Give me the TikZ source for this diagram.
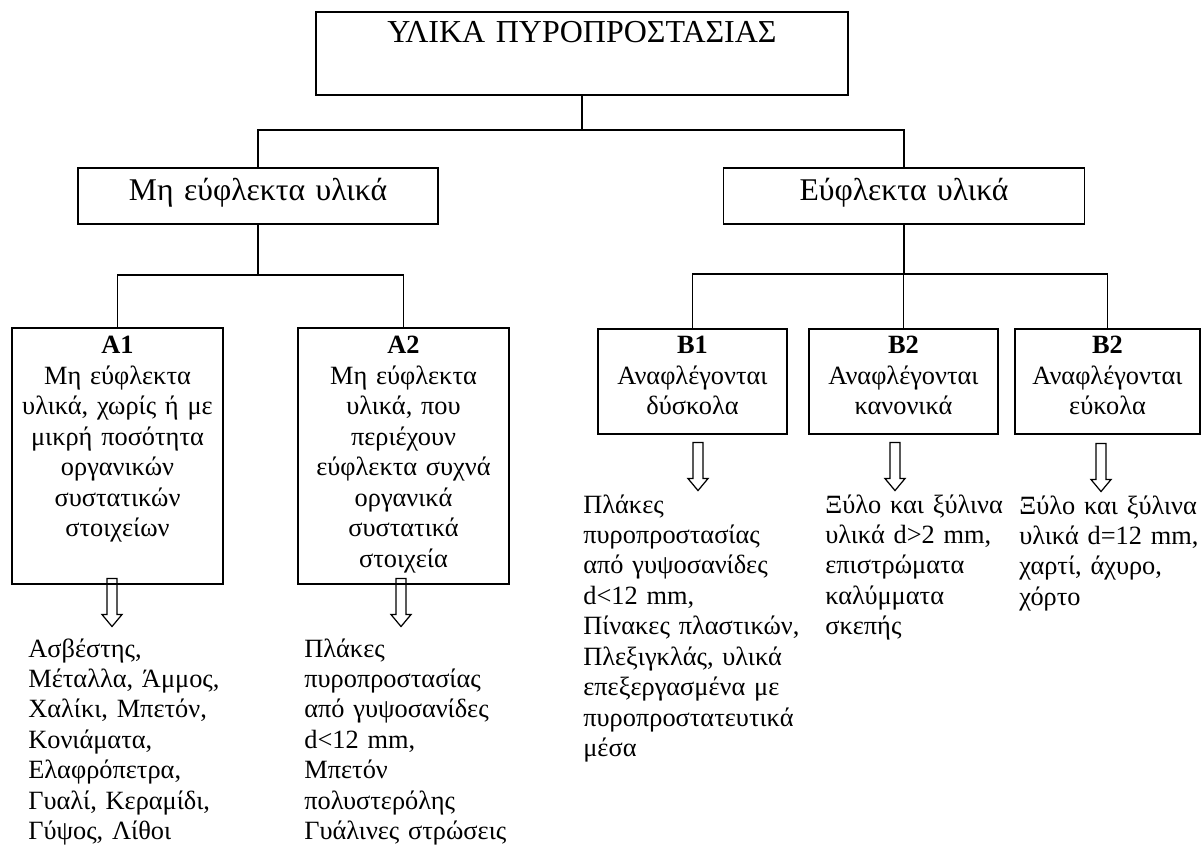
\documentclass[tikz,border=0pt]{standalone}
\usepackage{fontspec}
\setmainfont{Liberation Serif}
\usepackage{tikz}
\usetikzlibrary{calc, positioning}
\newcommand{\bodyfont}{\fontsize{15pt}{17.35pt}\selectfont}
\newcommand{\midfont}{\fontsize{18pt}{21pt}\selectfont}
\newcommand{\titlefont}{\fontsize{18.2pt}{22pt}\selectfont}

\begin{document}
\begin{tikzpicture}[x=0.02cm, y=-0.02cm,
    box/.style={draw=black, line width=0.9pt, inner sep=0pt, align=center, anchor=north},
    abox/.style={box, font=\bodyfont, text width=4.22cm, text height=0.52cm, text depth=4.6cm},
    bbox/.style={box, font=\bodyfont, text width=3.78cm, text height=0.5cm, text depth=1.6cm},
    midbox/.style={box, font=\midfont, text height=0.66cm, text depth=0.46cm},
    listtext/.style={font=\bodyfont, align=left, text width=4.5cm, inner sep=0pt, anchor=base west},
    link/.style={line width=0.9pt},
    hollowarrow/.style={draw=black, line width=0.7pt, line join=miter}]
  \useasboundingbox (0,0) rectangle (1202,847);

  % top level
  \node[box, font=\titlefont, text width=10.64cm, text height=0.62cm, text depth=1.04cm] (title) at (582,11) {ΥΛΙΚΑ ΠΥΡΟΠΡΟΣΤΑΣΙΑΣ};
  \node[midbox, text width=7.2cm] (nonflam) at (258,167) {Μη εύφλεκτα υλικά};
  \node[midbox, text width=7.22cm] (flam) at (904,167) {Εύφλεκτα υλικά};

  % second level
  \node[abox] (a1) at (117.5,327) {\textbf{Α1}\\Μη εύφλεκτα\\υλικά, χωρίς ή με\\μικρή ποσότητα\\οργανικών\\συστατικών\\στοιχείων};
  \node[abox] (a2) at (403.5,327) {\textbf{Α2}\\Μη εύφλεκτα\\υλικά, που\\περιέχουν\\εύφλεκτα συχνά\\οργανικά\\συστατικά\\στοιχεία};
  \node[bbox] (b1) at (692.5,328) {\textbf{Β1}\\Αναφλέγονται\\δύσκολα};
  \node[bbox] (b2) at (903.5,328) {\textbf{Β2}\\Αναφλέγονται\\κανονικά};
  \node[bbox, text width=3.7cm] (b3) at (1107.5,328) {\textbf{Β2}\\Αναφλέγονται\\εύκολα};

  % examples under each class
  \node[listtext] (a1list) at (28,657) {Ασβέστης,\\Μέταλλα, Άμμος,\\Χαλίκι, Μπετόν,\\Κονιάματα,\\Ελαφρόπετρα,\\Γυαλί, Κεραμίδι,\\Γύψος, Λίθοι};
  \node[listtext] (a2list) at (304,657) {Πλάκες\\πυροπροστασίας\\από γυψοσανίδες\\d<12 mm,\\Μπετόν\\πολυστερόλης\\Γυάλινες στρώσεις};
  \node[listtext] (b1list) at (583,513) {Πλάκες\\πυροπροστασίας\\από γυψοσανίδες\\d<12 mm,\\Πίνακες πλαστικών,\\Πλεξιγκλάς, υλικά\\επεξεργασμένα με\\πυροπροστατευτικά\\μέσα};
  \node[listtext] (b2list) at (825,513) {Ξύλο και ξύλινα\\υλικά d>2 mm,\\επιστρώματα\\καλύμματα\\σκεπής};
  \node[listtext, text width=3.6cm] (b3list) at (1019,514) {Ξύλο και ξύλινα\\υλικά d=12 mm,\\χαρτί, άχυρο,\\χόρτο};

  % tree lines
  \coordinate (j0) at (582,130);
  \coordinate (j1) at (258,275);
  \coordinate (j2) at (904,274);
  \draw[link] (title.south) -- (j0);
  \draw[link] (nonflam.north) |- (j0) -| (flam.north);
  \draw[link] (nonflam.south) -- (j1);
  \draw[link] (a1.north) |- (j1) -| (a2.north);
  \draw[link] (flam.south) -- (j2);
  \draw[link] (b1.north) |- (j2) -| (b3.north);
  \draw[link] (b2.north) -- (b2.north |- j2);

  % hollow arrows
  \foreach \n/\dx/\dy in {a1/-5.5/-6, a2/-2.5/-6, b1/5.5/8, b2/-8.5/8, b3/-6.5/9}
    \draw[hollowarrow] ($(\n.south)+(\dx,\dy)$) ++(-5,0) -- ++(10,0) -- ++(0,36) -- ++(5,0)
      -- ++(-10,12) -- ++(-10,-12) -- ++(5,0) -- cycle;
\end{tikzpicture}
\end{document}
